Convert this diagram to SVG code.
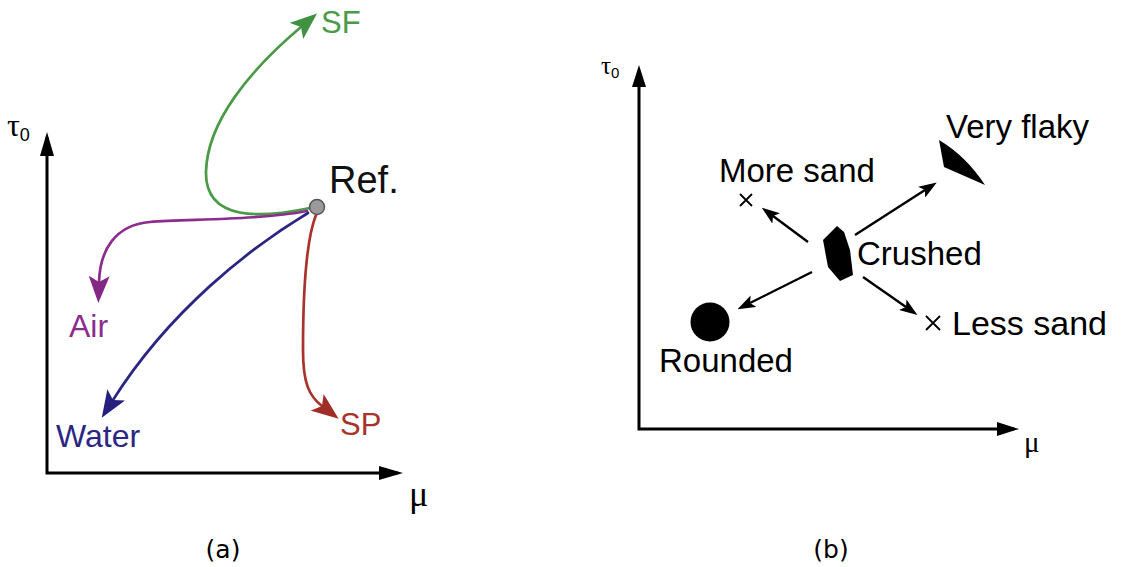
<svg xmlns="http://www.w3.org/2000/svg" width="1123" height="567" viewBox="0 0 1123 567">
<style>
.lbl{font-family:"Liberation Sans",Arial,sans-serif;}
.cap{font-family:"DejaVu Sans",Verdana,sans-serif;font-size:25px;fill:#000;text-anchor:middle;}
.sym{font-family:"Liberation Serif","Times New Roman",serif;fill:#000;}
.axis{fill:none;stroke:#000;stroke-width:3;}
.curve{fill:none;stroke-width:2.7;stroke-linecap:round;}
.barrow{fill:none;stroke:#000;stroke-width:2.4;marker-end:url(#mBlk);}
</style>
<defs>
<marker id="mAx" viewBox="0 0 24 14" refX="19" refY="7" markerWidth="24" markerHeight="14" markerUnits="userSpaceOnUse" orient="auto-start-reverse"><path d="M0,0 L24,7 L0,14 z" fill="#000"/></marker>
<marker id="mAxB" viewBox="0 0 22 14" refX="17" refY="7" markerWidth="22" markerHeight="14" markerUnits="userSpaceOnUse" orient="auto-start-reverse"><path d="M0,0 L22,7 L0,14 z" fill="#000"/></marker>
<marker id="mG" viewBox="0 0 27 21" refX="6" refY="10.5" markerWidth="27" markerHeight="21" markerUnits="userSpaceOnUse" orient="auto"><path d="M0,0 L27,10.5 L0,21 L6,10.5 z" fill="#3f9340"/></marker>
<marker id="mP" viewBox="0 0 27 21" refX="6" refY="10.5" markerWidth="27" markerHeight="21" markerUnits="userSpaceOnUse" orient="auto"><path d="M0,0 L27,10.5 L0,21 L6,10.5 z" fill="#842886"/></marker>
<marker id="mB" viewBox="0 0 27 21" refX="6" refY="10.5" markerWidth="27" markerHeight="21" markerUnits="userSpaceOnUse" orient="auto"><path d="M0,0 L27,10.5 L0,21 L6,10.5 z" fill="#25207e"/></marker>
<marker id="mR" viewBox="0 0 27 21" refX="6" refY="10.5" markerWidth="27" markerHeight="21" markerUnits="userSpaceOnUse" orient="auto"><path d="M0,0 L27,10.5 L0,21 L6,10.5 z" fill="#a02e27"/></marker>
<marker id="mBlk" viewBox="0 0 18 13" refX="4" refY="6.5" markerWidth="18" markerHeight="13" markerUnits="userSpaceOnUse" orient="auto"><path d="M0,0 L18,6.5 L0,13 L4,6.5 z" fill="#000"/></marker>
</defs>
<rect width="1123" height="567" fill="#fff"/>

<!-- Panel (a) -->
<g id="axes-a">
<path class="axis" d="M47,137 L47,473 L398,473" marker-start="url(#mAx)" marker-end="url(#mAx)"/>
<text class="sym" x="7" y="136" font-size="32">τ<tspan class="lbl" font-size="18" dy="5">0</tspan></text>
<text class="sym" x="409" y="506" font-size="36">μ</text>
</g>
<g id="connectors-a">
<path class="curve" stroke="#4b9a47" d="M310,208 C262,218 205,222 206,172 C207,122 250,70 301,27" marker-end="url(#mG)"/>
<path class="curve" stroke="#8b2c8e" d="M307,211 C260,220 190,219 150,222 C115,225 100,250 99,282" marker-end="url(#mP)"/>
<path class="curve" stroke="#2b2683" d="M308,213 C250,248 170,310 113,400" marker-end="url(#mB)"/>
<path class="curve" stroke="#a8332b" d="M316,215 C306,240 303,290 303,350 C303,383 309,396 322,406" marker-end="url(#mR)"/>
</g>
<g id="node-ref">
<circle cx="317" cy="207" r="7.5" fill="#9a9a9a" stroke="#555" stroke-width="1.5"/>
<text class="lbl" x="329" y="193" font-size="38" fill="#111">Ref.</text>
</g>
<g id="node-sf"><text class="lbl" x="321" y="33" font-size="31" fill="#4b9a47">SF</text></g>
<g id="node-air"><text class="lbl" x="69" y="337" font-size="32" fill="#8b2c8e">Air</text></g>
<g id="node-water"><text class="lbl" x="56" y="447" font-size="32" fill="#2b2683">Water</text></g>
<g id="node-sp"><text class="lbl" x="340" y="435" font-size="31" fill="#a8332b">SP</text></g>
<text class="cap" x="223" y="558">(a)</text>

<!-- Panel (b) -->
<g id="axes-b">
<path class="axis" d="M639,70 L639,429 L1014,429" marker-start="url(#mAxB)" marker-end="url(#mAxB)"/>
<text class="sym" x="601" y="74" font-size="25">τ<tspan class="lbl" font-size="15" dy="4">0</tspan></text>
<text class="sym" x="1024" y="452" font-size="29">μ</text>
</g>
<g id="connectors-b">
<path class="barrow" d="M808,242 L773,216"/>
<path class="barrow" d="M855,235 L925,190"/>
<path class="barrow" d="M812,272 L750,303"/>
<path class="barrow" d="M863,277 L906,307"/>
</g>
<g id="node-crushed">
<polygon points="837,226 844,232 850,250 853,275 840,281 828,267 823,240" fill="#000"/>
<text class="lbl" x="857" y="265" font-size="33">Crushed</text>
</g>
<g id="node-flaky">
<path d="M939,140 L944,167 L985,185 Q966,156 939,140 z" fill="#000"/>
<text class="lbl" x="946" y="138" font-size="33">Very flaky</text>
</g>
<g id="node-more">
<path d="M740,194 L752,206 M752,194 L740,206" stroke="#000" stroke-width="1.8"/>
<text class="lbl" x="719" y="182" font-size="33">More sand</text>
</g>
<g id="node-less">
<path d="M926,316 L940,330 M940,316 L926,330" stroke="#000" stroke-width="1.8"/>
<text class="lbl" x="952" y="335" font-size="34">Less sand</text>
</g>
<g id="node-rounded">
<circle cx="710" cy="322" r="19.5" fill="#000"/>
<text class="lbl" x="659" y="372" font-size="33">Rounded</text>
</g>
<text class="cap" x="831" y="558">(b)</text>
</svg>
